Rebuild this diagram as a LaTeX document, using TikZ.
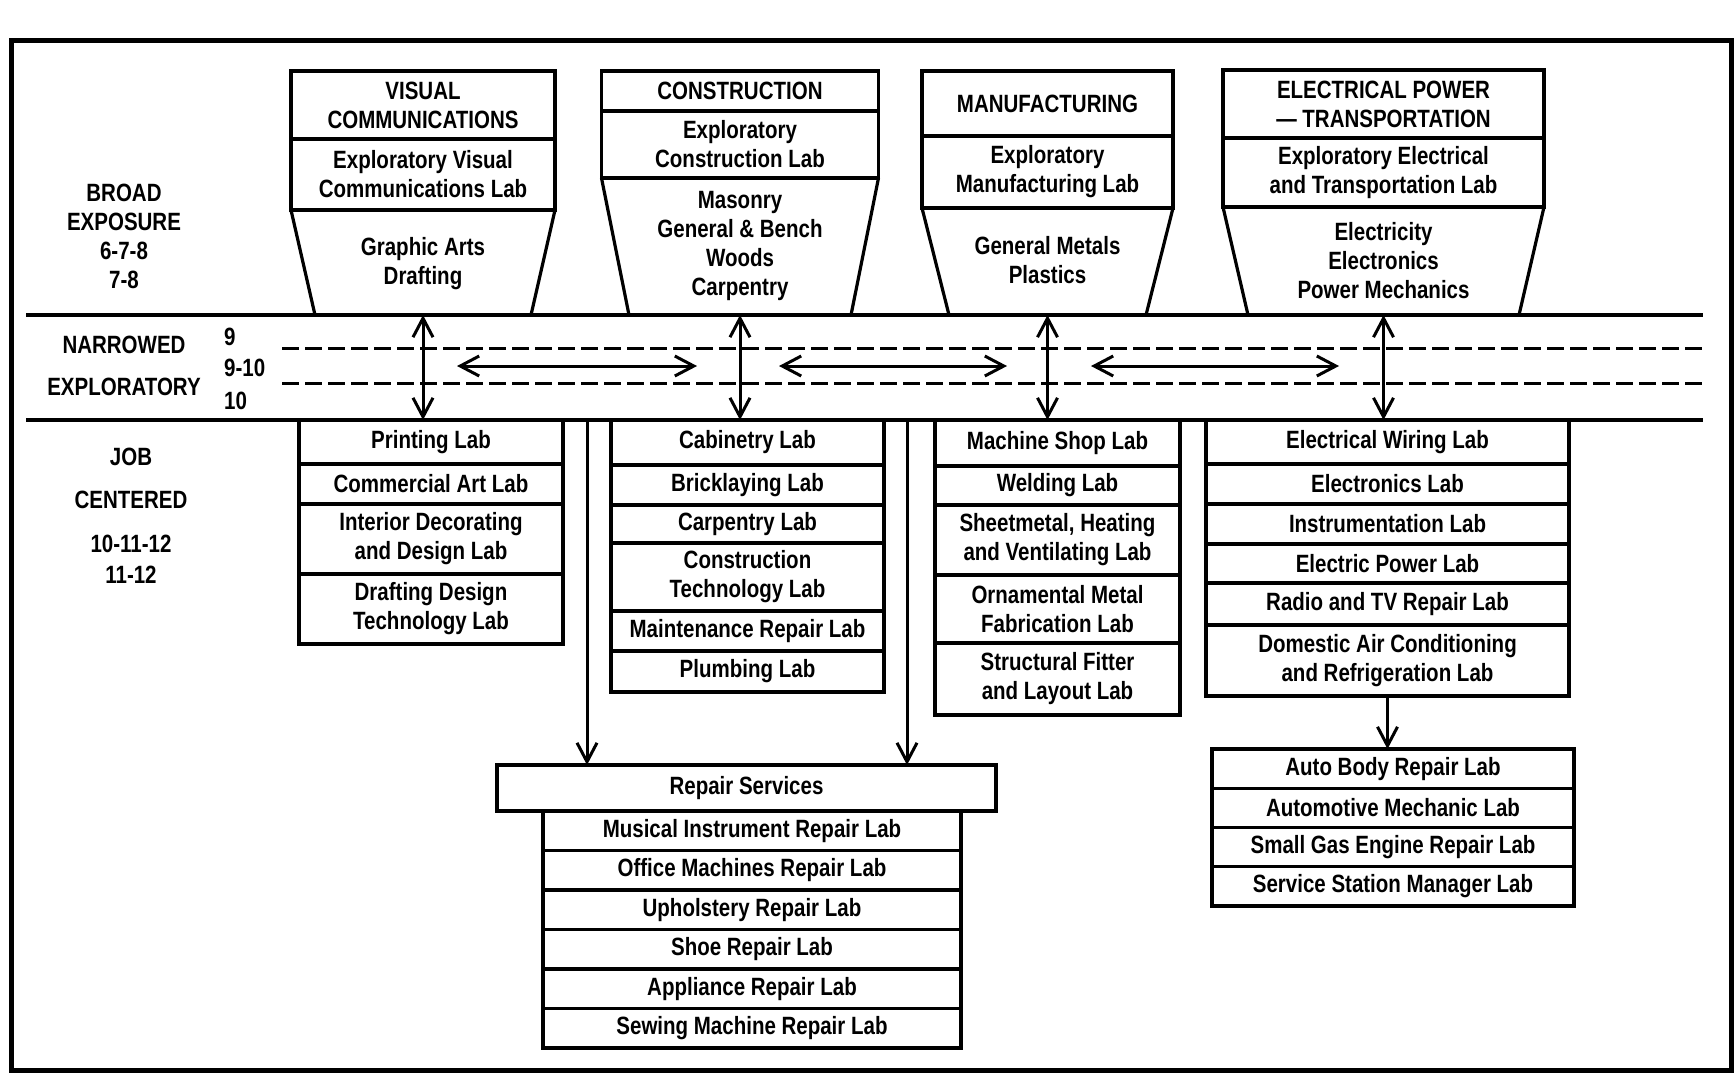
\documentclass[tikz,border=0pt]{standalone}
\usepackage{fontspec}
\newfontfamily\labfont{Liberation Sans}[FakeStretch=0.82]
\usetikzlibrary{arrows.meta, positioning}

\begin{document}
\begin{tikzpicture}[x=1pt, y=-1pt,
  font=\labfont\bfseries\fontsize{25}{29}\selectfont,
  every node/.style={align=center, inner sep=0pt},
  lab/.style={draw, line width=3.2pt, outer sep=0pt, minimum width=#1},
  edge/.style={line width=3.2pt},
  band/.style={line width=4.5pt},
  guide/.style={line width=3pt, dash pattern=on 17pt off 6pt},
  dbl/.style={{Straight Barb[length=19pt,width=20pt]}-{Straight Barb[length=19pt,width=20pt]}, line width=3pt},
  dn/.style={-{Straight Barb[length=19pt,width=20pt]}, line width=3pt}
]
\useasboundingbox (0,0) rectangle (1736,1080);
\draw[line width=5pt] (11,40) rectangle (1731,1070);

\node (broad) at (124,236) {BROAD\\EXPOSURE\\6-7-8\\7-8};
\node (narrowed) at (124,345) {NARROWED};
\node (explor) at (124,387) {EXPLORATORY};
\node[anchor=west] (g9) at (224,337) {9};
\node[anchor=west] (g910) at (224,368) {9-10};
\node[anchor=west] (g10) at (224,401) {10};
\node (job) at (131,457) {JOB};
\node (centered) at (131,500) {CENTERED};
\node (g1012) at (131,544) {10-11-12};
\node (g1112) at (131,575) {11-12};

\coordinate (bandTL) at (26,315);
\coordinate (bandTR) at (1703,315);
\coordinate (bandBL) at (26,420);
\coordinate (bandBR) at (1703,420);
\draw[band] (bandTL) -- (bandTR);
\draw[band] (bandBL) -- (bandBR);
\draw[guide] (282,348) -- (1703,348);
\draw[guide] (282,383) -- (1703,383);

\node[lab=264pt, minimum height=68pt, anchor=north] (vcHead) at (423,71) {VISUAL\\COMMUNICATIONS};
\node[lab=264pt, minimum height=71pt, below=0pt of vcHead] (vcExp) {Exploratory Visual\\Communications Lab};
\draw[edge] (vcExp.south west) -- (315,315) -- (531,315) -- (vcExp.south east);
\node (vcBase) at (423,264) {Graphic Arts\\Drafting};

\node[lab=277pt, minimum height=40pt, anchor=north] (cnHead) at (740,71) {CONSTRUCTION};
\node[lab=277pt, minimum height=67pt, below=0pt of cnHead] (cnExp) {Exploratory\\Construction Lab};
\draw[edge] (cnExp.south west) -- (629,315) -- (851,315) -- (cnExp.south east);
\node (cnBase) at (740,246) {Masonry\\General \& Bench\\Woods\\Carpentry};

\node[lab=251pt, minimum height=65pt, anchor=north] (mfHead) at (1047.5,71) {MANUFACTURING};
\node[lab=251pt, minimum height=72pt, below=0pt of mfHead] (mfExp) {Exploratory\\Manufacturing Lab};
\draw[edge] (mfExp.south west) -- (949,315) -- (1146,315) -- (mfExp.south east);
\node (mfBase) at (1047.5,260) {General Metals\\Plastics};

\node[lab=321pt, minimum height=68pt, anchor=north] (epHead) at (1383.5,70) {ELECTRICAL POWER\\— TRANSPORTATION};
\node[lab=321pt, minimum height=69pt, below=0pt of epHead] (epExp) {Exploratory Electrical\\and Transportation Lab};
\draw[edge] (epExp.south west) -- (1248,315) -- (1519,315) -- (epExp.south east);
\node (epBase) at (1383.5,261) {Electricity\\Electronics\\Power Mechanics};

\node[lab=264pt, minimum height=44pt, anchor=north] (vcJ1) at (431,420) {Printing Lab};
\node[lab=264pt, minimum height=40pt, below=0pt of vcJ1] (vcJ2) {Commercial Art Lab};
\node[lab=264pt, minimum height=70pt, below=0pt of vcJ2] (vcJ3) {Interior Decorating\\and Design Lab};
\node[lab=264pt, minimum height=70pt, below=0pt of vcJ3] (vcJ4) {Drafting Design\\Technology Lab};

\node[lab=273pt, minimum height=45pt, anchor=north] (cnJ1) at (747.5,420) {Cabinetry Lab};
\node[lab=273pt, minimum height=40pt, below=0pt of cnJ1] (cnJ2) {Bricklaying Lab};
\node[lab=273pt, minimum height=38pt, below=0pt of cnJ2] (cnJ3) {Carpentry Lab};
\node[lab=273pt, minimum height=68pt, below=0pt of cnJ3] (cnJ4) {Construction\\Technology Lab};
\node[lab=273pt, minimum height=40pt, below=0pt of cnJ4] (cnJ5) {Maintenance Repair Lab};
\node[lab=273pt, minimum height=41pt, below=0pt of cnJ5] (cnJ6) {Plumbing Lab};

\node[lab=245pt, minimum height=46pt, anchor=north] (mfJ1) at (1057.5,420) {Machine Shop Lab};
\node[lab=245pt, minimum height=39pt, below=0pt of mfJ1] (mfJ2) {Welding Lab};
\node[lab=245pt, minimum height=70pt, below=0pt of mfJ2] (mfJ3) {Sheetmetal, Heating\\and Ventilating Lab};
\node[lab=245pt, minimum height=68pt, below=0pt of mfJ3] (mfJ4) {Ornamental Metal\\Fabrication Lab};
\node[lab=245pt, minimum height=72pt, below=0pt of mfJ4] (mfJ5) {Structural Fitter\\and Layout Lab};

\node[lab=363pt, minimum height=44pt, anchor=north] (epJ1) at (1387.5,420) {Electrical Wiring Lab};
\node[lab=363pt, minimum height=40pt, below=0pt of epJ1] (epJ2) {Electronics Lab};
\node[lab=363pt, minimum height=40pt, below=0pt of epJ2] (epJ3) {Instrumentation Lab};
\node[lab=363pt, minimum height=39pt, below=0pt of epJ3] (epJ4) {Electric Power Lab};
\node[lab=363pt, minimum height=42pt, below=0pt of epJ4] (epJ5) {Radio and TV Repair Lab};
\node[lab=363pt, minimum height=71pt, below=0pt of epJ5] (epJ6) {Domestic Air Conditioning\\and Refrigeration Lab};

\foreach \s [count=\i] in {Auto Body Repair Lab, Automotive Mechanic Lab,
    Small Gas Engine Repair Lab, Service Station Manager Lab}
  \node[lab=362pt, minimum height=39.25pt, anchor=north] (au\i) at (1393,{749+39.25*(\i-1)}) {\s};

\node[lab=499pt, minimum height=46pt, anchor=north] (rsHead) at (746.5,765) {Repair Services};
\foreach \s [count=\i] in {Musical Instrument Repair Lab, Office Machines Repair Lab,
    Upholstery Repair Lab, Shoe Repair Lab, Appliance Repair Lab, Sewing Machine Repair Lab}
  \node[lab=418pt, minimum height=39.5pt, anchor=north] (rs\i) at (752,{811+39.5*(\i-1)}) {\s};

\draw[dbl] (vcBase |- bandTL) -- (vcBase |- vcJ1.north);
\draw[dbl] (cnBase |- bandTL) -- (cnBase |- cnJ1.north);
\draw[dbl] (mfBase |- bandTL) -- (mfBase |- mfJ1.north);
\draw[dbl] (epBase |- bandTL) -- (epBase |- epJ1.north);

\coordinate (h1a) at (457,366);
\coordinate (h1b) at (697,366);
\coordinate (h2a) at (779,366);
\coordinate (h2b) at (1007,366);
\coordinate (h3a) at (1091,366);
\coordinate (h3b) at (1339,366);
\draw[dbl] (h1a) -- (h1b);
\draw[dbl] (h2a) -- (h2b);
\draw[dbl] (h3a) -- (h3b);

\coordinate (rsL) at (587,420);
\coordinate (rsR) at (907,420);
\draw[dn] (rsL) -- (rsL |- rsHead.north);
\draw[dn] (rsR) -- (rsR |- rsHead.north);
\draw[dn] (epJ6.south) -- (epJ6.south |- au1.north);
\end{tikzpicture}
\end{document}
